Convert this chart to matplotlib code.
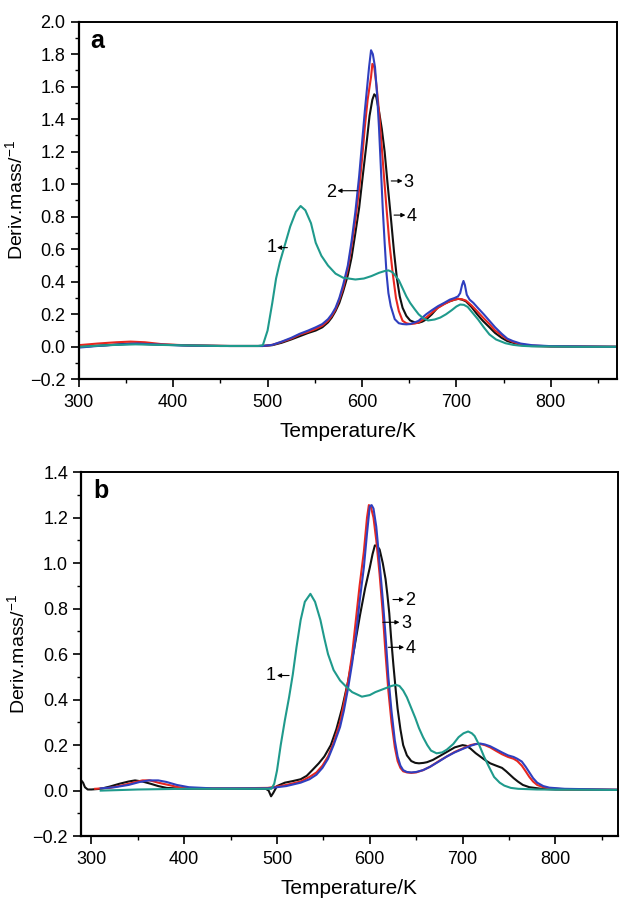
import matplotlib
matplotlib.use("Agg")
import matplotlib.pyplot as plt
from matplotlib.ticker import MultipleLocator, FuncFormatter

plt.rcParams["font.family"] = ["Liberation Sans", "DejaVu Sans"]
plt.rcParams["mathtext.default"] = "regular"

# ---- panel a: (temperature K, deriv. mass) ----
a_teal = [(300, 0.0), (330, 0.01), (360, 0.015), (400, 0.01), (450, 0.005), (490, 0.005), (495, 0.01),
          (500, 0.1), (505, 0.27), (509, 0.42), (513, 0.52), (518, 0.62), (524, 0.74), (530, 0.83),
          (535, 0.866), (540, 0.84), (546, 0.76), (551, 0.64), (557, 0.56), (564, 0.5), (572, 0.45),
          (580, 0.425), (593, 0.414), (602, 0.42), (610, 0.435), (618, 0.455), (624, 0.466), (628, 0.47),
          (632, 0.46), (635, 0.44), (639, 0.41), (643, 0.36), (647, 0.31), (651, 0.27), (656, 0.23),
          (660, 0.2), (665, 0.175), (670, 0.162), (677, 0.168), (683, 0.18), (689, 0.2), (695, 0.225),
          (700, 0.248), (704, 0.26), (708, 0.258), (712, 0.245), (717, 0.21), (723, 0.168), (729, 0.12),
          (735, 0.076), (742, 0.045), (752, 0.022), (760, 0.012), (769, 0.006), (780, 0.003), (800, 0.002),
          (830, 0.0), (870, 0.0)]
a_black = [(300, 0.0), (330, 0.01), (355, 0.02), (380, 0.015), (420, 0.008), (460, 0.005), (495, 0.005),
           (505, 0.01), (515, 0.025), (525, 0.045), (534, 0.065), (543, 0.085), (551, 0.1), (558, 0.12),
           (564, 0.15), (568, 0.18), (572, 0.22), (576, 0.27), (580, 0.34), (585, 0.44), (589, 0.55),
           (593, 0.7), (597, 0.855), (601, 1.06), (605, 1.26), (608, 1.42), (611, 1.52), (613, 1.553),
           (615, 1.54), (618, 1.45), (621, 1.34), (624, 1.2), (627, 1.01), (630.5, 0.8), (634, 0.58),
           (637, 0.42), (640, 0.31), (643, 0.24), (647, 0.19), (651, 0.162), (656, 0.15), (660, 0.148),
           (664, 0.155), (668, 0.168), (674, 0.2), (680, 0.24), (687, 0.265), (693, 0.28), (698, 0.29),
           (702, 0.295), (706, 0.29), (710, 0.28), (716, 0.245), (722, 0.2), (728, 0.16), (735, 0.12),
           (741, 0.085), (748, 0.055), (754, 0.035), (760, 0.025), (768, 0.012), (778, 0.005), (800, 0.002),
           (870, 0.0)]
a_red = [(300, 0.01), (320, 0.02), (340, 0.028), (355, 0.032), (370, 0.028), (390, 0.015), (420, 0.008),
         (460, 0.005), (495, 0.005), (505, 0.012), (515, 0.03), (525, 0.05), (534, 0.075), (543, 0.092),
         (551, 0.11), (558, 0.13), (564, 0.16), (568, 0.19), (572, 0.23), (576, 0.29), (580, 0.36),
         (585, 0.48), (589, 0.62), (593, 0.78), (597, 0.97), (600, 1.15), (603, 1.35), (606, 1.52),
         (609.6, 1.66), (611, 1.74), (613, 1.72), (615.5, 1.6), (618, 1.45), (620, 1.3), (623, 1.07),
         (626, 0.85), (629, 0.64), (632.6, 0.45), (636, 0.3), (639, 0.22), (643, 0.16), (647, 0.145),
         (651, 0.14), (656, 0.143), (660, 0.15), (664, 0.165), (668, 0.18), (674, 0.21), (680.5, 0.24),
         (687, 0.262), (693, 0.28), (698, 0.29), (702, 0.295), (706, 0.292), (710, 0.285), (716, 0.255),
         (722.6, 0.215), (729, 0.175), (735, 0.14), (741, 0.1), (748, 0.07), (754, 0.045), (760, 0.03),
         (768, 0.015), (778, 0.008), (800, 0.003), (870, 0.0)]
a_blue = [(300, -0.005), (320, 0.005), (345, 0.015), (362, 0.02), (380, 0.015), (410, 0.008), (450, 0.005),
          (495, 0.005), (505, 0.012), (515, 0.032), (525, 0.055), (534, 0.08), (543, 0.1), (551, 0.12),
          (558, 0.14), (564, 0.17), (568, 0.2), (572, 0.24), (576, 0.3), (580, 0.38), (585, 0.5),
          (589, 0.65), (593, 0.83), (597, 1.05), (600, 1.25), (603, 1.45), (606, 1.63), (607.5, 1.72),
          (609.6, 1.824), (611.5, 1.8), (613.8, 1.72), (616, 1.55), (618, 1.35), (620, 1.1), (622, 0.85),
          (624, 0.64), (626, 0.45), (628, 0.33), (630.5, 0.25), (634.7, 0.17), (639, 0.145), (643, 0.14),
          (647, 0.138), (651, 0.14), (656, 0.15), (660, 0.16), (664, 0.18), (668, 0.2), (674, 0.225),
          (680.5, 0.25), (687, 0.27), (693, 0.29), (698, 0.3), (701.7, 0.31), (704, 0.33), (706, 0.38),
          (707.5, 0.405), (709, 0.38), (711, 0.32), (714, 0.29), (718, 0.27), (722.6, 0.24), (729, 0.2),
          (735, 0.16), (741, 0.12), (748, 0.08), (754, 0.05), (760, 0.035), (768, 0.02), (780, 0.01),
          (800, 0.004), (870, 0.0)]

# ---- panel b ----
b_teal = [(310, 0.0), (350, 0.005), (400, 0.008), (450, 0.008), (494, 0.008), (497, 0.03), (500, 0.088),
          (504, 0.2), (508.5, 0.31), (513, 0.41), (517, 0.51), (521, 0.63), (525.5, 0.75), (530, 0.83),
          (536, 0.865), (541, 0.83), (546.8, 0.75), (551, 0.67), (555, 0.6), (561, 0.53), (568, 0.484),
          (575, 0.455), (581, 0.433), (591.5, 0.413), (600, 0.42), (606, 0.433), (615, 0.447), (623.4, 0.46),
          (628, 0.465), (632, 0.46), (636, 0.44), (640, 0.41), (645, 0.36), (649, 0.32), (653, 0.275),
          (657.4, 0.235), (662, 0.2), (666, 0.176), (672, 0.164), (678, 0.168), (683, 0.18), (690, 0.205),
          (695.7, 0.235), (701, 0.252), (706, 0.26), (710, 0.252), (713, 0.24), (718, 0.2), (723.4, 0.147),
          (729, 0.1), (734, 0.06), (740, 0.035), (745, 0.022), (752, 0.012), (760, 0.008), (780, 0.005),
          (867, 0.003)]
b_black = [(289, 0.045), (291, 0.035), (293, 0.015), (296, 0.005), (300, 0.005), (310, 0.008), (320, 0.018),
           (330, 0.03), (340, 0.04), (347, 0.045), (355, 0.04), (364, 0.03), (372, 0.02), (381, 0.012),
           (400, 0.008), (450, 0.008), (488, 0.008), (491, 0.0), (493.6, -0.025), (496, -0.01), (498, 0.005),
           (500, 0.02), (508.5, 0.035), (517, 0.042), (525.5, 0.05), (532, 0.065), (538, 0.09), (545, 0.12),
           (551, 0.15), (558, 0.2), (564, 0.27), (570, 0.36), (576.6, 0.48), (583, 0.62), (589.4, 0.77),
           (595, 0.89), (600, 0.98), (603, 1.04), (605.5, 1.078), (608, 1.075), (610.6, 1.06), (614, 1.0),
           (617, 0.93), (619, 0.86), (621, 0.78), (623, 0.67), (625.5, 0.55), (628, 0.44), (630, 0.36),
           (633, 0.27), (636, 0.2), (640, 0.155), (644.7, 0.13), (649, 0.122), (653, 0.12), (658, 0.122),
           (661.7, 0.125), (668, 0.135), (674.5, 0.15), (683, 0.17), (691.5, 0.19), (700, 0.2), (704, 0.197),
           (708.5, 0.185), (714, 0.165), (719, 0.15), (724, 0.135), (729.8, 0.12), (736, 0.11), (742.5, 0.1),
           (747, 0.085), (751, 0.07), (755, 0.055), (759.6, 0.04), (765, 0.025), (772, 0.015), (785, 0.008),
           (800, 0.005), (867, 0.003)]
b_red = [(304, 0.008), (320, 0.012), (335, 0.025), (345, 0.035), (355, 0.045), (363, 0.045), (372, 0.035),
         (383, 0.025), (394, 0.015), (410, 0.01), (450, 0.01), (490, 0.012), (500, 0.018), (510, 0.025),
         (525.5, 0.04), (535, 0.06), (542.5, 0.08), (549, 0.11), (555, 0.15), (561, 0.21), (568, 0.3),
         (572, 0.38), (576.6, 0.48), (581, 0.6), (585, 0.75), (589, 0.9), (593.6, 1.05), (597, 1.2),
         (599, 1.255), (601, 1.25), (604, 1.2), (607, 1.1), (610.6, 0.95), (614, 0.78), (617, 0.6),
         (620, 0.44), (623.4, 0.3), (627, 0.19), (630, 0.13), (633, 0.1), (636, 0.085), (640, 0.08),
         (644.7, 0.078), (650, 0.08), (657.4, 0.09), (665, 0.105), (674.5, 0.13), (683, 0.15), (691.5, 0.17),
         (700, 0.185), (708.5, 0.2), (714, 0.205), (719, 0.205), (724, 0.2), (729.8, 0.19), (736, 0.175),
         (742.5, 0.16), (749, 0.148), (755, 0.14), (759, 0.13), (763.8, 0.11), (768, 0.085), (772, 0.06),
         (776, 0.04), (780.4, 0.025), (787, 0.015), (793.6, 0.01), (810, 0.006), (867, 0.004)]
b_blue = [(310, 0.01), (325, 0.015), (340, 0.025), (352, 0.038), (362, 0.045), (372, 0.045), (381, 0.038),
          (392, 0.025), (405, 0.015), (430, 0.01), (490, 0.01), (500, 0.015), (510, 0.02), (525.5, 0.035),
          (535, 0.05), (542.5, 0.07), (549, 0.1), (555, 0.14), (561, 0.2), (568, 0.28), (572, 0.35),
          (576.6, 0.45), (581, 0.56), (585, 0.68), (589, 0.83), (593.6, 0.98), (597, 1.13), (600, 1.25),
          (602, 1.255), (604, 1.24), (607, 1.16), (610.6, 1.0), (614, 0.84), (617, 0.68), (620, 0.5),
          (623.4, 0.35), (627, 0.22), (630, 0.15), (633, 0.11), (636, 0.09), (640, 0.082), (644.7, 0.08),
          (650, 0.082), (657.4, 0.09), (665, 0.105), (674.5, 0.128), (683, 0.15), (691.5, 0.168),
          (700, 0.183), (708.5, 0.197), (714, 0.204), (719, 0.207), (724, 0.203), (729.8, 0.195),
          (736, 0.182), (742.5, 0.168), (749, 0.155), (755, 0.148), (759, 0.14), (763.8, 0.128),
          (768, 0.105), (772, 0.08), (776, 0.055), (780.4, 0.035), (787, 0.02), (793.6, 0.013),
          (810, 0.008), (867, 0.004)]

curve_labels = ["1", "2", "3", "4"]

TEAL = "#1f9a8c"
RED = "#e8271f"
BLUE = "#2f3fbf"
BLACK = "#111111"

fig = plt.figure(figsize=(6.2, 9.01), dpi=100)


def fmt(v, _):
    return f"{v + 0:.1f}".replace("-", "\u2212")


def setup(ax, xlim, ylim, letter):
    ax.set_xlim(*xlim)
    ax.set_ylim(*ylim)
    ax.xaxis.set_major_locator(MultipleLocator(100))
    ax.xaxis.set_minor_locator(MultipleLocator(50))
    ax.yaxis.set_major_locator(MultipleLocator(0.2))
    ax.yaxis.set_minor_locator(MultipleLocator(0.1))
    ax.yaxis.set_major_formatter(FuncFormatter(fmt))
    ax.tick_params(which="major", direction="out", length=5.5, width=1.2, labelsize=13)
    ax.tick_params(axis="y", which="major", pad=4)
    ax.tick_params(axis="x", which="major", pad=5)
    ax.tick_params(which="minor", direction="out", length=3, width=1.0)
    for s in ["left", "bottom"]:
        ax.spines[s].set_linewidth(1.6)
    for s in ["top", "right"]:
        ax.spines[s].set_linewidth(1.4)
    ax.set_xlabel("Temperature/K", fontsize=15, labelpad=8)
    ax.set_ylabel(r"Deriv.mass/$^{-1}$", fontsize=14, labelpad=3)
    ax.text(0.022, 0.98, letter, transform=ax.transAxes, fontsize=18, fontweight="bold",
            ha="left", va="top")


def draw(ax, series):
    for data, color in series:
        t = [p[0] for p in data]
        v = [p[1] for p in data]
        ax.plot(t, v, color=color, lw=1.5, solid_joinstyle="round")


def mark(ax, label, text_xy, tail_xy, head_xy):
    ax.text(text_xy[0], text_xy[1], label, fontsize=13, ha="center", va="center")
    ax.annotate("", xy=head_xy, xytext=tail_xy,
                arrowprops=dict(arrowstyle="-|>", lw=0.8, color="black", mutation_scale=6,
                                shrinkA=0, shrinkB=0))


# panel a
ax1 = fig.add_axes([0.127, 0.579, 0.868, 0.397])
draw(ax1, [(a_black, BLACK), (a_red, RED), (a_blue, BLUE), (a_teal, TEAL)])
setup(ax1, (300, 870), (-0.2, 2.0), "a")
mark(ax1, curve_labels[0], (504, 0.61), (521, 0.61), (510, 0.61))
mark(ax1, curve_labels[1], (567, 0.95), (595, 0.96), (574, 0.96))
mark(ax1, curve_labels[2], (649, 1.01), (631, 1.02), (643, 1.02))
mark(ax1, curve_labels[3], (653, 0.80), (634, 0.81), (646, 0.81))

# panel b
ax2 = fig.add_axes([0.131, 0.072, 0.865, 0.404])
draw(ax2, [(b_black, BLACK), (b_red, RED), (b_blue, BLUE), (b_teal, TEAL)])
setup(ax2, (289, 867), (-0.2, 1.4), "b")
mark(ax2, curve_labels[0], (493, 0.506), (513, 0.506), (500, 0.506))
mark(ax2, curve_labels[1], (644, 0.836), (625, 0.84), (637, 0.84))
mark(ax2, curve_labels[2], (639, 0.733), (614, 0.74), (632, 0.74))
mark(ax2, curve_labels[3], (644, 0.623), (620, 0.63), (637, 0.63))

fig.savefig("out.png", dpi=100)
